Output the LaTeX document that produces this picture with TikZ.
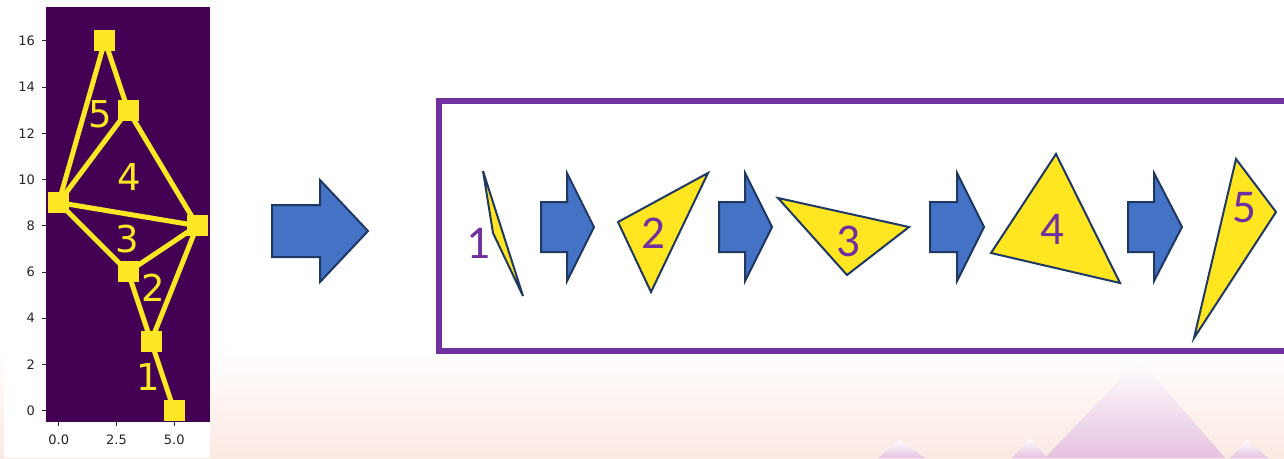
\documentclass[tikz,border=0pt]{standalone}
\usepackage{fontspec}
\setmainfont{DejaVu Sans}
\newfontfamily\calib{Carlito}
\definecolor{vyel}{HTML}{FDE725}
\definecolor{vpur}{HTML}{440154}
\definecolor{boxpur}{HTML}{7030A0}
\definecolor{arrblue}{HTML}{4472C4}
\definecolor{navy}{HTML}{1F3864}
\definecolor{triyel}{HTML}{FFE620}
\definecolor{peach}{HTML}{FBE9E3}
\definecolor{mount}{HTML}{E6C2E0}
\begin{document}
\begin{tikzpicture}[x=1pt,y=-1pt,
  arrowshape/.style={fill=arrblue, draw=navy, line width=2pt, line join=miter},
  tri/.style={fill=triyel, draw=navy, line width=2pt, line join=miter},
  trilabel/.style={text=boxpur, font=\calib\fontsize{47}{47}\selectfont, inner sep=0pt},
  plotlabel/.style={text=vyel, font=\fontsize{37}{37}\selectfont, inner sep=0pt},
  sq/.style={rectangle, fill=vyel, minimum size=21pt, inner sep=0pt},
  plotedge/.style={draw=vyel, line width=5pt, line join=round},
  tickline/.style={line width=0.8pt, draw=black!85},
  ticklab/.style={font=\fontsize{13}{13}\selectfont, text=black!85, inner sep=0pt},
  mountain/.style={top color=white, bottom color=mount, draw=none}]
\clip (0,0) rectangle (1284,458);
\fill[white] (0,0) rectangle (1284,458);
\shade[top color=white, bottom color=peach] (0,345) rectangle (1284,458);
% faint mountains
\shade[mountain] (1139,359) -- (1225,458) -- (1045,458) -- cycle;
\shade[mountain] (899,440) -- (925,458) -- (878,458) -- cycle;
\shade[mountain] (1030,438) -- (1048,458) -- (1012,458) -- cycle;
\shade[mountain] (1247,440) -- (1268,458) -- (1230,458) -- cycle;
% figure area
\fill[white] (4,0) rectangle (210,458);
\fill[vpur] (46,6.5) rectangle (209.5,422);
\begin{scope}[shift={(58.7,410.7)}, x=23.1pt, y=23.125pt]
  \coordinate (p0) at (5,0);
  \coordinate (p1) at (4,3);
  \coordinate (p2) at (3,6);
  \coordinate (p3) at (6,8);
  \coordinate (p4) at (0,9);
  \coordinate (p5) at (3,13);
  \coordinate (p6) at (2,16);
  \begin{scope}
    \clip (-0.55,-0.49) rectangle (6.53,17.48);
    \draw[plotedge] (p0) -- (p1) -- (p2);
    \draw[plotedge] (p1) -- (p3);
    \draw[plotedge] (p2) -- (p3);
    \draw[plotedge] (p2) -- (p4);
    \draw[plotedge] (p4) -- (p3);
    \draw[plotedge] (p4) -- (p5);
    \draw[plotedge] (p5) -- (p3);
    \draw[plotedge] (p4) -- (p6) -- (p5);
    \foreach \i in {0,...,6} {\node[sq] (s\i) at (p\i) {};}
  \end{scope}
  \foreach \v in {0,2,...,16} {
    \draw[tickline] (-0.55,\v) -- ++(-4pt,0);
    \node[ticklab, anchor=east] (yl\v) at ([xshift=-11pt]-0.55,\v) {\v};
  }
  \foreach \u/\t in {0/0.0,2.5/2.5,5/5.0} {
    \draw[tickline] (\u,-0.49) -- ++(0,-4pt);
    \node[ticklab, anchor=north] (xl\t) at ([yshift=-13pt]\u,-0.49) {\t};
  }
\end{scope}
% plot labels
\node[plotlabel] (l5) at (100,114) {5};
\node[plotlabel] (l4) at (129,177) {4};
\node[plotlabel] (l3) at (127,239) {3};
\node[plotlabel] (l2) at (153,288) {2};
\node[plotlabel] (l1) at (148,377) {1};
% big arrow
\draw[arrowshape] (272,205) -- (320,205) -- (320,180) -- (368,231) -- (320,282) -- (320,257) -- (272,257) -- cycle;
% purple box
\draw[boxpur, line width=5.5pt] (439,101) rectangle (1300,351);
% small arrows
\foreach \a/\b/\c in {541/567/594, 719/745/772, 930/957/984, 1128/1154/1182} {
  \draw[arrowshape] (\a,202) -- (\b,202) -- (\b,173) -- (\c,227) -- (\b,281) -- (\b,252) -- (\a,252) -- cycle;
}
% triangles
\draw[tri] (483,171) -- (493,233) -- (523,296) -- cycle;
\draw[tri] (618,222) -- (708,173) -- (651,292) -- cycle;
\draw[tri] (778,198) -- (909,227) -- (847,275) -- cycle;
\draw[tri] (1056,154) -- (1120,283) -- (991,253) -- cycle;
\draw[tri] (1236,159) -- (1276,212) -- (1194,338) -- cycle;
\node[trilabel] (t1) at (478,243) {1};
\node[trilabel] (t2) at (653,233) {2};
\node[trilabel] (t3) at (848,241) {3};
\node[trilabel] (t4) at (1052,229) {4};
\node[trilabel] (t5) at (1244,208) {5};
\end{tikzpicture}
\end{document}
